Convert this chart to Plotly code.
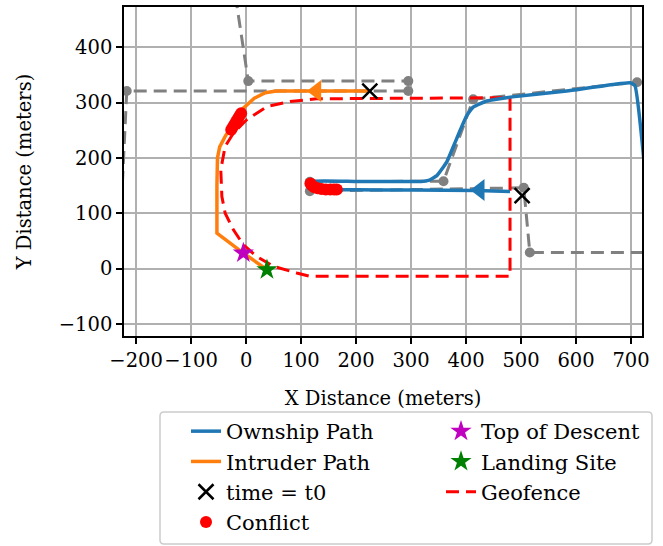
import plotly.graph_objects as go

# ---------------- data ----------------
ownship_x = [480, 420, 300, 200, 125, 114, 113, 118, 200, 280, 318, 332, 347, 365, 383, 401, 413, 438, 480, 583, 698, 707, 725]
ownship_y = [139.5, 141, 142, 142.5, 143, 145, 152, 157.5, 157.5, 157.5, 157.5, 159.5, 168, 193, 235, 276, 292, 303, 310, 321, 336, 331, 180]

intruder_x = [225, 130, 55, 35, 15, -5, -20, -38, -48, -52, -53, -53, -5, 38]
intruder_y = [321, 321, 321, 318, 308, 290, 268, 239, 220, 200, 150, 64, 28, -2]

geofence_x = [480, 480, 116, 92, 50, 19, -5, -23, -38, -44, -46, -44, -38, -23, 1, 38, 80, 128, 480]
geofence_y = [309, -14, -14, -8, 4, 22, 43, 70, 100, 130, 179, 191, 221, 245, 269, 293, 302, 307, 309]

# planned routes (gray dashed) with waypoint markers
route_a_x = [-25, 4, 295]
route_a_y = [530, 339, 339]
route_b_x = [-237, -217, 295]
route_b_y = [-100, 321, 321]
route_c_x = [116, 359, 413, 711]
route_c_y = [157, 158, 306, 337]
route_d_x = [116, 505, 516, 780]
route_d_y = [140, 146, 29, 29]

t0_x = [225, 502]
t0_y = [321, 132]

conflict_x = [-27, -24, -21, -18, -15, -12, -9, 117, 120, 124, 130, 137, 145, 153, 160, 165]
conflict_y = [251, 256, 261, 266, 271, 276, 281, 154, 150, 147, 145, 144, 143, 143, 143, 143]

tod_x, tod_y = [-5], [28]
landing_x, landing_y = [38], [-2]

own_arrow_x, own_arrow_y = [425], [142]
int_arrow_x, int_arrow_y = [128], [321]

x_ticks = [-200, -100, 0, 100, 200, 300, 400, 500, 600, 700]
y_ticks = [-100, 0, 100, 200, 300, 400]

BLUE = "#1f77b4"
ORANGE = "#ff7f0e"
GRAY = "#808080"
FONT = "DejaVu Serif"

fig = go.Figure()

# gray routes
for rx_, ry_ in [(route_a_x, route_a_y), (route_b_x, route_b_y), (route_c_x, route_c_y), (route_d_x, route_d_y)]:
    fig.add_trace(go.Scatter(x=rx_, y=ry_, mode="lines+markers",
                             line=dict(color=GRAY, width=3, dash="13px,7px"),
                             marker=dict(color=GRAY, size=10), showlegend=False, hoverinfo="skip"))

# geofence
fig.add_trace(go.Scatter(x=geofence_x, y=geofence_y, mode="lines", name="Geofence",
                         line=dict(color="red", width=3, dash="13px,7px"),
                         legend="legend2", legendgroup="g3", legendrank=3))

# paths
fig.add_trace(go.Scatter(x=ownship_x, y=ownship_y, mode="lines", name="Ownship Path",
                         line=dict(color=BLUE, width=3.5, shape="spline", smoothing=0.4),
                         legendgroup="a1", legendrank=1))
fig.add_trace(go.Scatter(x=intruder_x, y=intruder_y, mode="lines", name="Intruder Path",
                         line=dict(color=ORANGE, width=3.5), legendgroup="a2", legendrank=2))

# arrows
fig.add_trace(go.Scatter(x=own_arrow_x, y=own_arrow_y, mode="markers", showlegend=False,
                         marker=dict(symbol="triangle-left", size=19, color=BLUE)))
fig.add_trace(go.Scatter(x=int_arrow_x, y=int_arrow_y, mode="markers", showlegend=False,
                         marker=dict(symbol="triangle-left", size=19, color=ORANGE)))

# conflict
fig.add_trace(go.Scatter(x=conflict_x, y=conflict_y, mode="markers", name="Conflict",
                         marker=dict(color="red", size=12), legendgroup="a4", legendrank=4))

# t0
fig.add_trace(go.Scatter(x=t0_x, y=t0_y, mode="markers", name="time = t0",
                         marker=dict(symbol="x-thin", size=15, line=dict(color="black", width=2.5)),
                         legendgroup="a3", legendrank=3))

# stars
fig.add_trace(go.Scatter(x=tod_x, y=tod_y, mode="markers", name="Top of Descent",
                         marker=dict(symbol="star", size=16, color="#bf00bf"),
                         legend="legend2", legendgroup="g1", legendrank=1))
fig.add_trace(go.Scatter(x=landing_x, y=landing_y, mode="markers", name="Landing Site",
                         marker=dict(symbol="star", size=16, color="#008000"),
                         legend="legend2", legendgroup="g2", legendrank=2))

L, R, T, B = 124, 21, 7, 210
W, H = 663, 546
pw, ph = W - L - R, H - T - B

def px(x):
    return (x - L) / pw

def py(y):
    return (H - B - y) / ph

TICK = 19.5
axis_common = dict(showline=True, mirror=True, linecolor="black", linewidth=1.5,
                   ticks="outside", ticklen=6, tickwidth=1.5, tickcolor="black",
                   showgrid=True, gridcolor="#b0b0b0", gridwidth=1.5, zeroline=False,
                   tickangle=0,
                   tickfont=dict(family=FONT, size=TICK, color="black"))

fig.update_xaxes(range=[-222, 720], tickvals=x_ticks,
                 title=dict(text="X Distance (meters)", font=dict(family=FONT, size=TICK, color="black"), standoff=20),
                 **axis_common)
fig.update_yaxes(range=[-122, 473], tickvals=y_ticks,
                 title=dict(text="Y Distance (meters)", font=dict(family=FONT, size=TICK, color="black"), standoff=22),
                 **axis_common)

legend_common = dict(bgcolor="rgba(0,0,0,0)", borderwidth=0, traceorder="grouped",
                     tracegroupgap=0, font=dict(family=FONT, size=21, color="black"),
                     xanchor="left", yanchor="top", itemwidth=30)

# legend frame
x0, x1, y0, y1 = px(160), px(652), py(412), py(544)
rx, ry = 4 / pw, 4 / ph
path = (f"M {x0+rx},{y0} L {x1-rx},{y0} Q {x1},{y0} {x1},{y0-ry} "
        f"L {x1},{y1+ry} Q {x1},{y1} {x1-rx},{y1} L {x0+rx},{y1} Q {x0},{y1} {x0},{y1+ry} "
        f"L {x0},{y0-ry} Q {x0},{y0} {x0+rx},{y0} Z")
fig.add_shape(type="path", path=path, xref="paper", yref="paper",
              line=dict(color="#cccccc", width=1.5), fillcolor="white", layer="below")

fig.update_layout(
    width=W, height=H,
    margin=dict(l=L, r=R, t=T, b=B, autoexpand=False),
    paper_bgcolor="white", plot_bgcolor="white",
    font=dict(family=FONT, size=TICK, color="black"),
    legend=dict(x=px(186), y=py(411), **legend_common),
    legend2=dict(x=px(441), y=py(411), **legend_common),
)

fig.write_html("out.html")
